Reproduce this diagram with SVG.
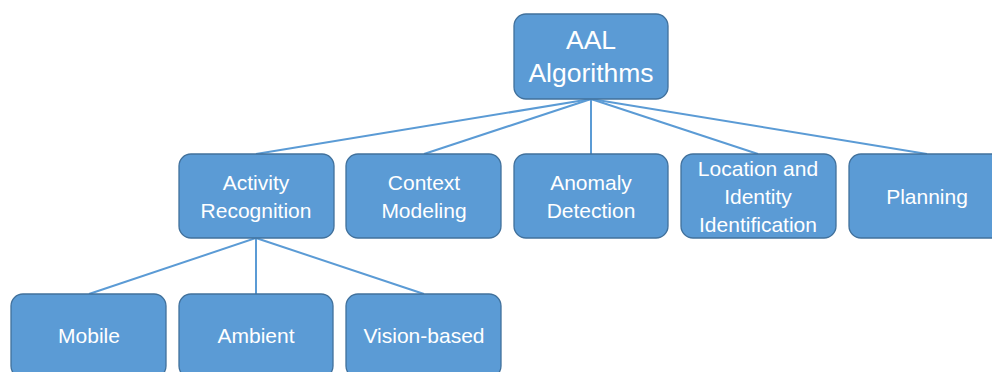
<svg xmlns="http://www.w3.org/2000/svg" width="992" height="372" viewBox="0 0 992 372">
  <style>
    .box { fill: #5B9BD5; stroke: #41719C; stroke-width: 1.3; }
    .lbl { fill: #FFFFFF; font-family: "Liberation Sans", Arial, sans-serif; font-size: 21px; text-anchor: middle; }
    .big { font-size: 26.5px; }
    .link { stroke: #5B9BD5; stroke-width: 2; fill: none; }
  </style>
  <rect width="992" height="372" fill="#FFFFFF"/>

  <g id="connectors">
    <line class="link" x1="591" y1="99" x2="256" y2="154"/>
    <line class="link" x1="591" y1="99" x2="424" y2="154"/>
    <line class="link" x1="591" y1="99" x2="591" y2="154"/>
    <line class="link" x1="591" y1="99" x2="758" y2="154"/>
    <line class="link" x1="591" y1="99" x2="927" y2="154"/>
    <line class="link" x1="256" y1="238" x2="89" y2="294"/>
    <line class="link" x1="256" y1="238" x2="256" y2="294"/>
    <line class="link" x1="256" y1="238" x2="424" y2="294"/>
  </g>

  <g id="aal-algorithms">
    <rect class="box" x="514" y="14" width="154" height="85" rx="12"/>
    <text class="lbl big" x="591" y="49">AAL</text>
    <text class="lbl big" x="591" y="82">Algorithms</text>
  </g>

  <g id="activity-recognition">
    <rect class="box" x="179" y="154" width="155" height="84" rx="12"/>
    <text class="lbl" x="256" y="190">Activity</text>
    <text class="lbl" x="256" y="218">Recognition</text>
  </g>

  <g id="context-modeling">
    <rect class="box" x="346" y="154" width="155" height="84" rx="12"/>
    <text class="lbl" x="424" y="190">Context</text>
    <text class="lbl" x="424" y="218">Modeling</text>
  </g>

  <g id="anomaly-detection">
    <rect class="box" x="514" y="154" width="154" height="84" rx="12"/>
    <text class="lbl" x="591" y="190">Anomaly</text>
    <text class="lbl" x="591" y="218">Detection</text>
  </g>

  <g id="location-identity">
    <rect class="box" x="681" y="154" width="155" height="84" rx="12"/>
    <text class="lbl" x="758" y="176">Location and</text>
    <text class="lbl" x="758" y="204">Identity</text>
    <text class="lbl" x="758" y="232">Identification</text>
  </g>

  <g id="planning">
    <rect class="box" x="849" y="154" width="155" height="84" rx="12"/>
    <text class="lbl" x="927" y="204">Planning</text>
  </g>

  <g id="mobile">
    <rect class="box" x="11" y="294" width="155" height="84" rx="12"/>
    <text class="lbl" x="89" y="343">Mobile</text>
  </g>

  <g id="ambient">
    <rect class="box" x="179" y="294" width="154" height="84" rx="12"/>
    <text class="lbl" x="256" y="343">Ambient</text>
  </g>

  <g id="vision-based">
    <rect class="box" x="346" y="294" width="155" height="84" rx="12"/>
    <text class="lbl" x="424" y="343">Vision-based</text>
  </g>
</svg>
